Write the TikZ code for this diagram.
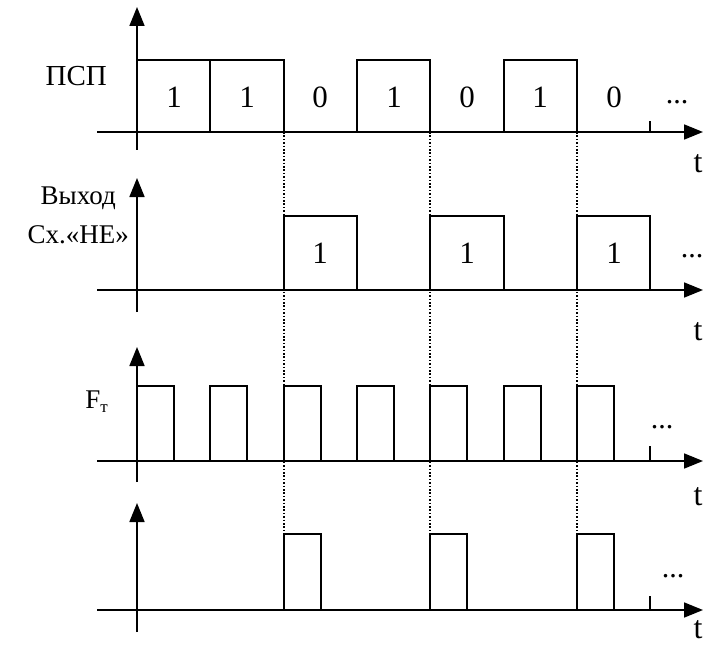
\documentclass[tikz,border=0pt]{standalone}
\usepackage{fontspec}
\setmainfont{Liberation Serif}
\usetikzlibrary{arrows.meta}
\begin{document}
\begin{tikzpicture}[x=1pt,y=-1pt,
  wave/.style={line width=1.7pt, line join=miter},
  axisline/.style={line width=1.7pt, -{Triangle[length=19pt,width=15pt]}},
  guide/.style={line width=1.7pt, dash pattern=on 1.6pt off 1.8pt},
  lbl/.style={font=\fontsize{27}{29}\selectfont, inner sep=0pt},
  digit/.style={font=\fontsize{31}{33}\selectfont, inner sep=0pt},
  tlbl/.style={font=\fontsize{32}{34}\selectfont, inner sep=0pt},
  more/.style={font=\fontsize{30}{32}\selectfont, inner sep=0pt}]
\useasboundingbox (0,0) rectangle (703,647);

% guide lines through the bit boundaries of the zero bits
\foreach \gx [count=\i] in {284,430,577}{
  \coordinate (g\i top) at (\gx,132);
  \coordinate (g\i bot) at (\gx,534);
  \draw[guide] (g\i top) -- (g\i bot);
}

% axes: vertical (bottom, top) and horizontal (left, right) for each trace
\foreach \n/\base/\tip/\bot in {1/132/7/150, 2/290/178/312, 3/461/347/482, 4/610/503/632}{
  \coordinate (v\n s) at (137,\bot);
  \coordinate (v\n e) at (137,\tip);
  \coordinate (h\n s) at (97,\base);
  \coordinate (h\n e) at (703,\base);
  \draw[axisline] (v\n s) -- (v\n e);
  \draw[axisline] (h\n s) -- (h\n e);
}

% trace 1: pseudo-random sequence 1101010
\draw[wave] (137,132) -- (137,60) -- (284,60) -- (284,132);
\draw[wave] (210,60) -- (210,132);
\draw[wave] (357,132) -- (357,60) -- (430,60) -- (430,132);
\draw[wave] (504,132) -- (504,60) -- (577,60) -- (577,132);
\draw[wave] (650,132) -- (650,121);
\node[digit] (d1) at (174,97) {1};
\node[digit] (d2) at (247,97) {1};
\node[digit] (d3) at (320,97) {0};
\node[digit] (d4) at (394,97) {1};
\node[digit] (d5) at (467,97) {0};
\node[digit] (d6) at (540,97) {1};
\node[digit] (d7) at (614,97) {0};
\node[more] (m1) at (677,102) {...};
\node[lbl, anchor=east, font=\fontsize{29}{31}\selectfont] (l1) at (107,76) {ПСП};
\node[tlbl] (t1) at (698,164) {t};

% trace 2: inverter output
\draw[wave] (284,290) -- (284,216) -- (357,216) -- (357,290);
\draw[wave] (430,290) -- (430,216) -- (504,216) -- (504,290);
\draw[wave] (577,290) -- (577,216) -- (650,216) -- (650,290);
\node[digit] (e1) at (320,253) {1};
\node[digit] (e2) at (467,253) {1};
\node[digit] (e3) at (614,253) {1};
\node[more] (m2) at (692,256) {...};
\node[lbl, anchor=east] (l2a) at (116,198) {Выход};
\node[lbl, anchor=east] (l2b) at (129,235) {Сх.«НЕ»};
\node[tlbl] (t2) at (698,332) {t};

% trace 3: clock pulses
\foreach \px in {137,210,284,357,430,504,577}{
  \draw[wave] (\px,461) -- (\px,386) -- (\px+37,386) -- (\px+37,461);
}
\draw[wave] (650,461) -- (650,446);
\node[more] (m3) at (662,427) {...};
\node[lbl, anchor=east] (l3) at (108,402) {F\raisebox{-0.3ex}{\fontsize{17}{19}\selectfont т}};
\node[tlbl] (t3) at (698,497) {t};

% trace 4: gated clock
\foreach \px in {284,430,577}{
  \draw[wave] (\px,610) -- (\px,534) -- (\px+37,534) -- (\px+37,610);
}
\draw[wave] (650,610) -- (650,596);
\node[more] (m4) at (673,576) {...};
\node[tlbl] (t4) at (698,630) {t};
\end{tikzpicture}
\end{document}
